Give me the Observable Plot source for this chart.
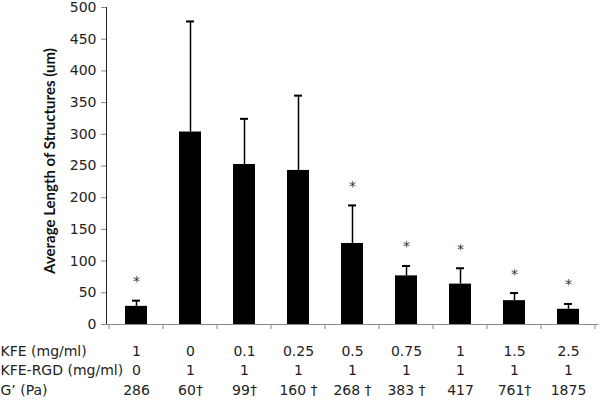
<!DOCTYPE html>
<html>
<head>
<meta charset="utf-8">
<script src="https://cdn.jsdelivr.net/npm/d3@7"></script>
<script src="https://cdn.jsdelivr.net/npm/@observablehq/plot@0.6"></script>
<style>
  body { margin: 0; background: #fff; }
  #chart svg g[aria-label="y-axis tick"] { stroke: #888; }
  #chart svg g[aria-label="y-axis"] line, #chart svg g[aria-label="y-axis"] path { stroke: #888; }
</style>
</head>
<body>
<div id="chart"></div>
<script>
// ---- data ----
const categories = ["KFE 1 / RGD 0", "KFE 0 / RGD 1", "KFE 0.1 / RGD 1", "KFE 0.25 / RGD 1", "KFE 0.5 / RGD 1", "KFE 0.75 / RGD 1", "KFE 1 / RGD 1", "KFE 1.5 / RGD 1", "KFE 2.5 / RGD 1"];
const kfe = ["1", "0", "0.1", "0.25", "0.5", "0.75", "1", "1.5", "2.5"];
const kfeRgd = ["0", "1", "1", "1", "1", "1", "1", "1", "1"];
const gPrime = ["286", "60†", "99†", "160 †", "268 †", "383 †", "417", "761†", "1875"];
const means = [28.6, 303.6, 252.4, 243, 127.8, 76.7, 63.7, 37.6, 24];
const errors = [9, 174.4, 72, 118, 60, 15.6, 25, 12, 8.4];
const significant = [true, false, false, false, true, true, true, true, true];
const yTicks = [0, 50, 100, 150, 200, 250, 300, 350, 400, 450, 500];
const rowLabels = ["KFE (mg/ml)", "KFE-RGD (mg/ml)", "G’ (Pa)"];
const yLabel = "Average Length of Structures (um)";

const data = categories.map((c, i) => ({
  c, mean: means[i], top: means[i] + errors[i],
  kfe: kfe[i], rgd: kfeRgd[i], g: gPrime[i], sig: significant[i]
}));

// category boundary ticks under the x axis (Excel style)
function boundaryTicks(index, scales) {
  const x = scales.x, y = scales.y;
  const step = x.step(), bw = x.bandwidth();
  const y0 = y(0);
  const g = d3.create("svg:g").attr("stroke", "#888").attr("stroke-width", 1);
  categories.forEach((c, i) => {
    const cx = x(c) + bw / 2;
    if (i === 0) g.append("line").attr("x1", cx - step / 2).attr("x2", cx - step / 2).attr("y1", y0).attr("y2", y0 + 5);
    g.append("line").attr("x1", cx + step / 2).attr("x2", cx + step / 2).attr("y1", y0).attr("y2", y0 + 5);
  });
  return g.node();
}

const rowDy = [31, 50, 70];

const chart = Plot.plot({
  width: 600,
  height: 404,
  marginLeft: 106,
  marginRight: 2,
  marginTop: 7,
  marginBottom: 80,
  style: { fontFamily: "DejaVu Sans", fontSize: "14px", color: "#222", background: "#fff", overflow: "visible" },
  x: { domain: categories, paddingInner: 0.6, paddingOuter: 0.3, axis: null },
  y: { domain: [0, 500], ticks: yTicks, tickSize: 5, tickPadding: 5, label: null, line: true, tickFormat: d => String(d) },
  marks: [
    Plot.barY(data, { x: "c", y: "mean", fill: "#000" }),
    Plot.ruleX(data, { x: "c", y1: "mean", y2: "top", stroke: "#000", strokeWidth: 1.5 }),
    Plot.tickY(data, { x: "c", y: "top", stroke: "#000", strokeWidth: 2, insetLeft: 7, insetRight: 7 }),
    Plot.text(data.filter(d => d.sig), { x: "c", y: "top", text: () => "*", dy: -19, fontSize: 14, fill: "#333" }),
    Plot.ruleY([0], { stroke: "#888" }),
    boundaryTicks,
    Plot.text(data, { x: "c", text: "kfe", frameAnchor: "bottom", dy: rowDy[0] }),
    Plot.text(data, { x: "c", text: "rgd", frameAnchor: "bottom", dy: rowDy[1] }),
    Plot.text(data, { x: "c", text: "g", frameAnchor: "bottom", dy: rowDy[2] }),
    Plot.text([rowLabels[0]], { text: d => d, frameAnchor: "bottom-left", textAnchor: "start", dx: -106, dy: rowDy[0] }),
    Plot.text([rowLabels[1]], { text: d => d, frameAnchor: "bottom-left", textAnchor: "start", dx: -106, dy: rowDy[1] }),
    Plot.text([rowLabels[2]], { text: d => d, frameAnchor: "bottom-left", textAnchor: "start", dx: -106, dy: rowDy[2] }),
    Plot.text([yLabel], { text: d => d, frameAnchor: "left", textAnchor: "middle", rotate: -90, dx: -56, dy: -5, fontWeight: "bold", fontFamily: "Lato", fontSize: 15, fill: "#111" })
  ]
});

document.getElementById("chart").appendChild(chart);
</script>
</body>
</html>
